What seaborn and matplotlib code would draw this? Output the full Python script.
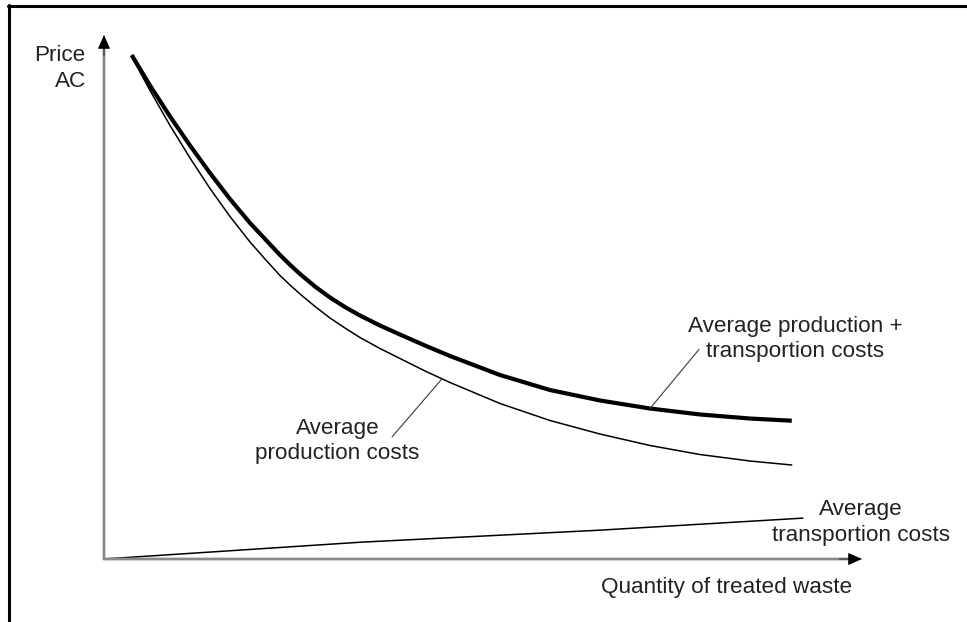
import matplotlib
matplotlib.use("Agg")
import matplotlib.pyplot as plt
from matplotlib.lines import Line2D
import seaborn as sns
import pandas as pd

# ---- data (quantity, price) ----
prod_transport_q = [3.65, 6.07, 8.71, 11.35, 13.98, 16.62, 19.26, 21.24, 23.22, 24.54,
                    25.86, 27.84, 29.82, 31.79, 33.77, 36.41, 39.05, 42.35, 45.65,
                    52.24, 58.84, 65.44, 72.03, 78.63, 85.22, 90.73]
prod_transport_p = [96.18, 90.36, 84.45, 78.91, 73.66, 68.70, 64.12, 61.07, 58.02, 56.15,
                    54.39, 52.00, 49.90, 48.09, 46.47, 44.56, 42.84, 40.74, 38.74,
                    35.11, 32.25, 30.25, 28.72, 27.58, 26.81, 26.39]

prod_q = [3.65, 6.07, 8.71, 11.35, 13.98, 16.62, 19.26, 21.24, 23.22, 24.54,
          25.86, 27.84, 29.82, 31.79, 33.77, 36.41, 39.05, 42.35, 45.65,
          52.24, 58.84, 65.44, 72.03, 78.63, 85.22, 90.73]
prod_p = [95.90, 89.41, 82.73, 76.53, 70.71, 65.36, 60.50, 57.25, 54.10, 52.29,
          50.57, 48.19, 45.99, 44.08, 42.27, 40.17, 38.26, 35.88, 33.68,
          29.68, 26.43, 23.85, 21.66, 19.94, 18.70, 17.94]

transport_q = [0.0, 33.8, 65.4, 92.2]
transport_p = [0.0, 3.2, 5.5, 7.8]

labels = {
    "pt": "Average production +\ntransportion costs",
    "p": "Average\nproduction costs",
    "t": "Average\ntransportion costs",
}
x_label = "Quantity of treated waste"
y_label = "Price\nAC"

sns.set_theme(style="white")
plt.rcParams["font.family"] = ["Liberation Sans", "DejaVu Sans"]

fig = plt.figure(figsize=(9.67, 6.22), dpi=100)
ax = fig.add_axes([104 / 967, 63 / 622, 758 / 967, 524 / 622])
ax.set_xlim(0, 100)
ax.set_ylim(0, 100)
for s in ax.spines.values():
    s.set_visible(False)
ax.set_xticks([])
ax.set_yticks([])
ax.patch.set_alpha(0)

df_pt = pd.DataFrame({"q": prod_transport_q, "p": prod_transport_p})
df_p = pd.DataFrame({"q": prod_q, "p": prod_p})
df_t = pd.DataFrame({"q": transport_q, "p": transport_p})

sns.lineplot(data=df_pt, x="q", y="p", ax=ax, color="black", lw=3.0,
             estimator=None, sort=False, solid_capstyle="butt",
             solid_joinstyle="round")
sns.lineplot(data=df_p, x="q", y="p", ax=ax, color="black", lw=1.1,
             estimator=None, sort=False, solid_joinstyle="round")
sns.lineplot(data=df_t, x="q", y="p", ax=ax, color="black", lw=1.1,
             estimator=None, sort=False)
ax.set_xlabel("")
ax.set_ylabel("")

# axis arrows
axis_gray = "#8a8a8a"
ax.annotate("", xy=(100, 0), xytext=(0, 0), xycoords="data",
            arrowprops=dict(arrowstyle="-", color=axis_gray, lw=2.0,
                            shrinkA=0, shrinkB=8), annotation_clip=False)
ax.annotate("", xy=(0, 100), xytext=(0, 0), xycoords="data",
            arrowprops=dict(arrowstyle="-", color=axis_gray, lw=2.0,
                            shrinkA=0, shrinkB=8), annotation_clip=False)
ax.annotate("", xy=(100, 0), xytext=(97, 0),
            arrowprops=dict(arrowstyle="-|>,head_length=0.45,head_width=0.2",
                            color="black", lw=0.5, mutation_scale=20,
                            shrinkA=0, shrinkB=0), annotation_clip=False)
ax.annotate("", xy=(0, 100), xytext=(0, 96),
            arrowprops=dict(arrowstyle="-|>,head_length=0.45,head_width=0.2",
                            color="black", lw=0.5, mutation_scale=20,
                            shrinkA=0, shrinkB=0), annotation_clip=False)

txt_color = "#222222"
fs = 16.2
ls = 1.3
# leader lines + labels
ax.annotate("", xy=(72.03, 28.72), xytext=(78.5, 40.0),
            arrowprops=dict(arrowstyle="-", color="#3a3a3a", lw=0.8,
                            shrinkA=0, shrinkB=0))
ax.annotate("", xy=(44.6, 34.4), xytext=(38.0, 23.3),
            arrowprops=dict(arrowstyle="-", color="#3a3a3a", lw=0.8,
                            shrinkA=0, shrinkB=0))

ax.text(91.2, 42.0, labels["pt"], ha="center", va="center", fontsize=fs,
        color=txt_color, linespacing=ls, clip_on=False)
ax.text(30.8, 22.5, labels["p"], ha="center", va="center", fontsize=fs,
        color=txt_color, linespacing=ls, clip_on=False)
ax.text(99.9, 7.0, labels["t"], ha="center", va="center", fontsize=fs,
        color=txt_color, linespacing=ls, clip_on=False)
ax.text(82.1, -5.4, x_label, ha="center", va="center", fontsize=fs,
        color=txt_color, clip_on=False)
ax.text(-2.4, 93.6, y_label, ha="right", va="center", fontsize=fs,
        color=txt_color, linespacing=ls, clip_on=False)

# frame lines at top and left of the picture
fig.add_artist(Line2D([8 / 967, 1.0], [1 - 5.5 / 622, 1 - 5.5 / 622],
                      color="black", lw=2.2, transform=fig.transFigure))
fig.add_artist(Line2D([8.6 / 967, 8.6 / 967], [0.0, 1 - 4.5 / 622],
                      color="black", lw=2.2, transform=fig.transFigure))

fig.savefig("out.png", dpi=100, facecolor="white")
